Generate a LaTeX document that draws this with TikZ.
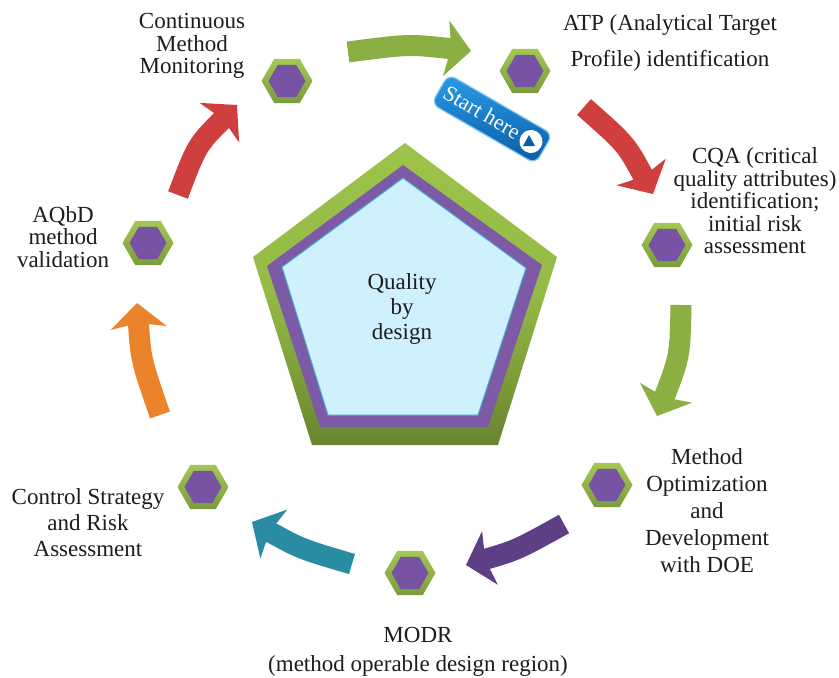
\documentclass[tikz,border=0pt]{standalone}
\usepackage{fontspec}
\setmainfont{Liberation Serif}
\usetikzlibrary{arrows.meta,shapes.geometric}

\definecolor{arrgreen}{HTML}{8BAF43}
\definecolor{arrred}{HTML}{CF3F3E}
\definecolor{arrpurple}{HTML}{5C3F84}
\definecolor{arrteal}{HTML}{2A8CA3}
\definecolor{arrorange}{HTML}{EB832B}
\definecolor{hexlight}{HTML}{A4C755}
\definecolor{hexdark}{HTML}{7A9C3B}
\definecolor{hexpurple}{HTML}{7953A3}
\definecolor{pentlight}{HTML}{9DC34A}
\definecolor{pentdark}{HTML}{68852F}
\definecolor{pentpurple}{HTML}{7C5AA6}
\definecolor{pentfill}{HTML}{CEF1FD}
\definecolor{pentedge}{HTML}{46ACD0}
\definecolor{btnlight}{HTML}{2A9BE6}
\definecolor{btndark}{HTML}{0A5CA6}
\definecolor{btnedge}{HTML}{7CC4F2}
\definecolor{ink}{HTML}{1E1C1D}

\begin{document}
\begin{tikzpicture}[x=1pt,y=-1pt,
  flow/.style={line width=21pt,
    -{Stealth[length=25pt,width=56pt,inset=5pt,line width=0pt]}},
  hexout/.style={regular polygon, regular polygon sides=6, minimum size=51pt,
    inner sep=0pt, draw=none, top color=hexlight, bottom color=hexdark},
  hexin/.style={regular polygon, regular polygon sides=6, minimum size=37pt,
    inner sep=0pt, draw=none, fill=hexpurple},
  lbl/.style={font=\fontsize{23}{22.5}\selectfont, align=center,
    text=ink, inner sep=0pt},
]
\useasboundingbox (0,0) rectangle (839,678);
\fill[white] (0,0) rectangle (839,678);

% central pentagon
\coordinate (po1) at (405,143); \coordinate (po2) at (557,257);
\coordinate (po3) at (498,445); \coordinate (po4) at (312,445);
\coordinate (po5) at (253,257);
\coordinate (pm1) at (403,165); \coordinate (pm2) at (542,265);
\coordinate (pm3) at (488,427); \coordinate (pm4) at (320,427);
\coordinate (pm5) at (267,266);
\coordinate (pi1) at (403,178); \coordinate (pi2) at (526,268);
\coordinate (pi3) at (478,415); \coordinate (pi4) at (328,415);
\coordinate (pi5) at (282,267);
\shade[top color=pentlight, bottom color=pentdark, middle color=pentlight!85!pentdark]
  (po1) -- (po2) -- (po3) -- (po4) -- (po5) -- cycle;
\fill[pentpurple] (pm1) -- (pm2) -- (pm3) -- (pm4) -- (pm5) -- cycle;
\filldraw[fill=pentfill, draw=pentedge, line width=1pt]
  (pi1) -- (pi2) -- (pi3) -- (pi4) -- (pi5) -- cycle;
\node[lbl, font=\fontsize{23}{25}\selectfont] (qbd) at (402,309) {Quality\\by\\design};

% curved arrows around the cycle
\coordinate (a1s) at (348,52);  \coordinate (a1c) at (409,44);  \coordinate (a1e) at (471,51);
\coordinate (a2s) at (584,107); \coordinate (a2c) at (626,144); \coordinate (a2e) at (653,194);
\coordinate (a3s) at (681,305); \coordinate (a3c) at (680,356); \coordinate (a3e) at (657,416);
\coordinate (a4s) at (564,524); \coordinate (a4c) at (517,550); \coordinate (a4e) at (466,565);
\coordinate (a5s) at (352,564); \coordinate (a5c) at (301,549); \coordinate (a5e) at (252,522);
\coordinate (a6s) at (160,415); \coordinate (a6c) at (141,360); \coordinate (a6e) at (137,303);
\coordinate (a7s) at (178,195); \coordinate (a7c) at (197,145); \coordinate (a7e) at (237,105);
\draw[flow, draw=arrgreen]  (a1s) .. controls (a1c) .. (a1e);
\draw[flow, draw=arrred]    (a2s) .. controls (a2c) .. (a2e);
\draw[flow, draw=arrgreen]  (a3s) .. controls (a3c) .. (a3e);
\draw[flow, draw=arrpurple] (a4s) .. controls (a4c) .. (a4e);
\draw[flow, draw=arrteal]   (a5s) .. controls (a5c) .. (a5e);
\draw[flow, draw=arrorange] (a6s) .. controls (a6c) .. (a6e);
\draw[flow, draw=arrred]    (a7s) .. controls (a7c) .. (a7e);

% hexagon markers
\foreach \n/\p in {h1/{(287,81)}, h2/{(525,71)}, h3/{(667,245)}, h4/{(607,485)},
                   h5/{(410,573)}, h6/{(203,487)}, h7/{(148,243)}}{
  \node[hexout] (\n) at \p {};
  \node[hexin] (\n i) at \p {};
}

% step labels
\node[lbl] (t1) at (192,46) {Continuous\\Method\\Monitoring};
\node[lbl] (t2) at (670,43) {ATP (Analytical Target\\[14pt]Profile) identification};
\node[lbl] (t3) at (755,201) {CQA (critical\\quality attributes)\\identification;\\initial risk\\assessment};
\node[lbl, font=\fontsize{23}{27}\selectfont] (t4) at (707,511) {Method\\Optimization\\and\\Development\\with DOE};
\node[lbl] (t5) at (418,652) {MODR\\[7pt](method operable design region)};
\node[lbl, font=\fontsize{23}{26}\selectfont] (t6) at (88,523) {Control Strategy\\and Risk\\Assessment};
\node[lbl] (t7) at (63,237) {AQbD\\method\\validation};

% start button
\begin{scope}[shift={(492,119)}, rotate=-30]
  \node[transform shape, draw=btnedge, line width=1.2pt, rounded corners=8pt,
        minimum width=120pt, minimum height=34pt, inner sep=0pt,
        top color=btnlight, bottom color=btndark] (start) at (0,0) {};
  \node[transform shape, text=white, inner sep=0pt,
        font=\fontsize{22}{22}\selectfont] (startlbl) at (-12,-1) {Start here};
  \node[transform shape, circle, fill=white, minimum size=23pt, inner sep=0pt] (play) at (45,0) {};
\end{scope}
\fill[btndark] (529,135) -- (523,146) -- (535,146) -- cycle;
\end{tikzpicture}
\end{document}
